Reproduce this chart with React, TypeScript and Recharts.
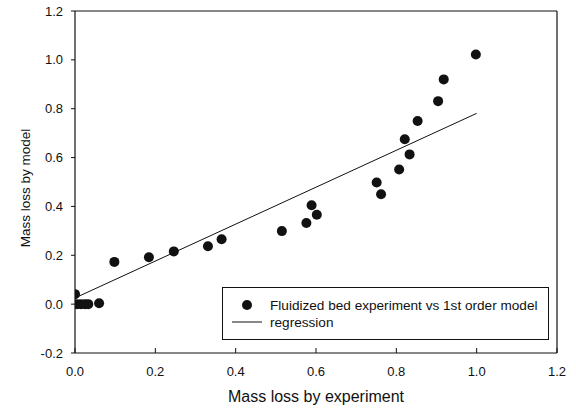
import React from 'react';
import {
  ScatterChart,
  Scatter,
  XAxis,
  YAxis,
  ReferenceLine,
  Label,
} from 'recharts';

const expX = [0, 0.005, 0.015, 0.025, 0.033, 0.06, 0.098, 0.184, 0.246, 0.331, 0.365, 0.515, 0.576, 0.589, 0.602, 0.751, 0.762, 0.807, 0.833, 0.821, 0.853, 0.904, 0.918, 0.998];
const modelY = [0.041, 0, 0, 0, 0, 0.004, 0.173, 0.192, 0.216, 0.237, 0.266, 0.299, 0.332, 0.405, 0.366, 0.498, 0.45, 0.551, 0.613, 0.675, 0.75, 0.831, 0.92, 1.022];

const regX = [0.005, 1.0];
const regY = [0.029, 0.781];

const xTicks = [0, 0.2, 0.4, 0.6, 0.8, 1.0, 1.2];
const yTicks = [-0.2, 0, 0.2, 0.4, 0.6, 0.8, 1.0, 1.2];

const seriesName = 'Fluidized bed experiment vs 1st order model';
const regName = 'regression';
const xTitle = 'Mass loss by experiment';
const yTitle = 'Mass loss by model';

const points = expX.map((x, i) => ({ x, y: modelY[i] }));
const regression = regX.map((x, i) => ({ x, y: regY[i] }));

const FONT = '"Liberation Sans", Arial, Helvetica, sans-serif';
const INK = '#111';

const Dot = (p: any) => <circle cx={p.cx} cy={p.cy} r={5} fill={INK} />;
const NoShape = () => <g />;

const LegendBox = () => (
  <div
    style={{
      position: 'absolute',
      left: 222,
      top: 287,
      width: 327,
      height: 53,
      boxSizing: 'border-box',
      border: `1px solid ${INK}`,
      background: '#fff',
    }}
  >
    <svg width={327} height={53} style={{ position: 'absolute', left: -1, top: -1 }}>
      <circle cx={25} cy={18} r={5} fill={INK} />
      <line x1={10} x2={40} y1={35} y2={35} stroke={INK} strokeWidth={1} />
      <text x={48} y={18} dominantBaseline="central" fontFamily={FONT} fontSize={13.6} fill={INK}>
        {seriesName}
      </text>
      <text x={48} y={35} dominantBaseline="central" fontFamily={FONT} fontSize={13.6} fill={INK}>
        {regName}
      </text>
    </svg>
  </div>
);

export default function App() {
  return (
    <div style={{ position: 'absolute', left: 0, top: 0, width: 576, height: 412, background: '#fff' }}>
      <ScatterChart
        width={576}
        height={412}
        margin={{ top: 11, right: 19, bottom: 0, left: 0 }}
        style={{ fontFamily: FONT }}
      >
        <XAxis
          type="number"
          dataKey="x"
          domain={[0, 1.2]}
          ticks={xTicks}
          tickFormatter={(v: number) => v.toFixed(1)}
          height={59}
          allowDataOverflow
          axisLine={{ stroke: INK, strokeWidth: 1.2 }}
          tickLine={{ stroke: INK }}
          tickSize={-5}
          tickMargin={19}
          tick={{ fill: INK, fontSize: 13 }}
        >
          <Label value={xTitle} position="insideBottom" offset={10} fill={INK} fontSize={16} />
        </XAxis>
        <YAxis
          type="number"
          dataKey="y"
          domain={[-0.2, 1.2]}
          ticks={yTicks}
          tickFormatter={(v: number) => v.toFixed(1)}
          width={75}
          allowDataOverflow
          axisLine={{ stroke: INK, strokeWidth: 1.2 }}
          tickLine={{ stroke: INK }}
          tickSize={4}
          tickMargin={8}
          tick={{ fill: INK, fontSize: 13 }}
        >
          <Label
            content={() => (
              <text
                x={25}
                y={188}
                transform="rotate(-90 25 188)"
                textAnchor="middle"
                dominantBaseline="central"
                fontFamily={FONT}
                fontSize={13.5}
                fill={INK}
              >
                {yTitle}
              </text>
            )}
          />
        </YAxis>
        <ReferenceLine y={1.2} stroke={INK} strokeWidth={1.2} />
        <ReferenceLine x={1.2} stroke={INK} strokeWidth={1.2} />
        <Scatter
          name={seriesName}
          data={points}
          shape={Dot}
          isAnimationActive={false}
        />
        <Scatter
          name={regName}
          data={regression}
          line={{ stroke: INK, strokeWidth: 1 }}
          shape={NoShape}
          isAnimationActive={false}
        />
      </ScatterChart>
      <LegendBox />
    </div>
  );
}
